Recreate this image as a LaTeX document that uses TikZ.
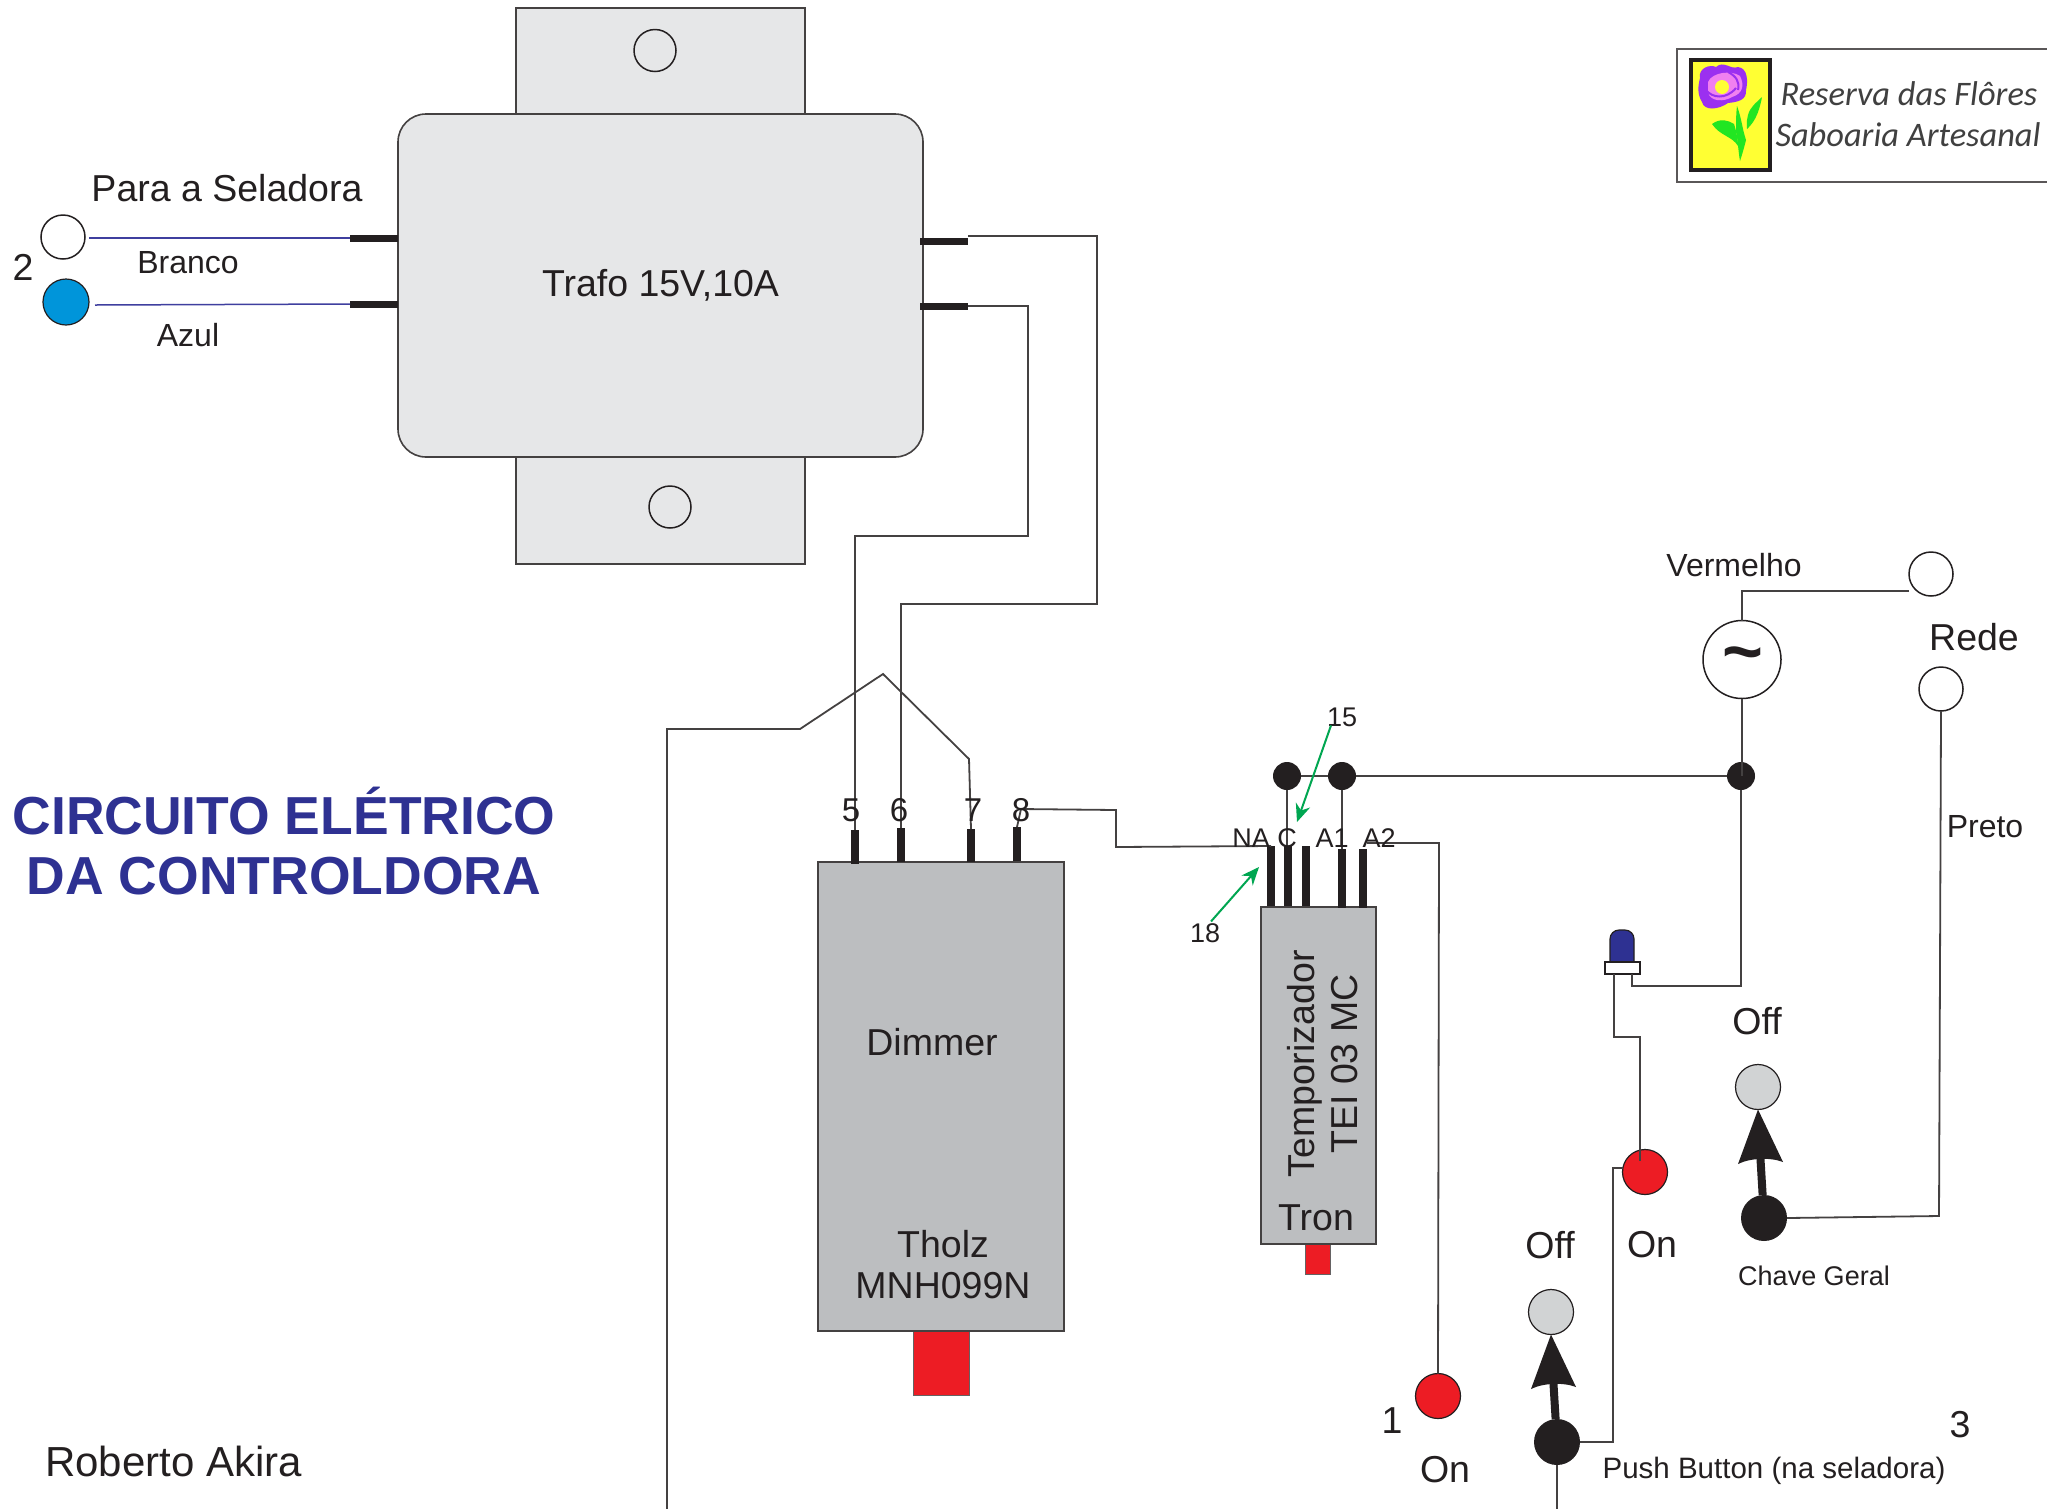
\documentclass[tikz,border=0pt]{standalone}
\usepackage{fontspec}
\setmainfont{Liberation Sans}
\newfontfamily\logofont{Carlito}
\usetikzlibrary{arrows.meta}
\definecolor{ink}{HTML}{231F20}
\definecolor{trafofill}{HTML}{E6E7E8}
\definecolor{boxfill}{HTML}{BCBEC0}
\definecolor{offfill}{HTML}{D1D3D4}
\definecolor{onred}{HTML}{ED1C24}
\definecolor{azul}{HTML}{0095DA}
\definecolor{navy}{HTML}{2E3192}
\definecolor{wireblue}{HTML}{3F3F9F}
\definecolor{arrowgreen}{HTML}{00A651}
\definecolor{logotext}{HTML}{404040}
\definecolor{flowerpurple}{HTML}{9B30F0}
\definecolor{flowerpink}{HTML}{F080F0}
\definecolor{logoyellow}{HTML}{FFFF33}
\definecolor{leafgreen}{HTML}{22E622}
\tikzset{
  every node/.style={inner sep=0pt,outer sep=0pt,text=ink},
  wire/.style={draw=ink!85!white,line width=1.8pt,line join=miter},
  bluewire/.style={draw=wireblue,line width=1.5pt},
  body/.style={draw=ink!85!white,line width=1.6pt,rectangle},
  trafotab/.style={body,fill=trafofill},
  grayblock/.style={body,fill=boxfill},
  redblock/.style={rectangle,draw=ink!70!white,line width=1pt,fill=onred},
  pinv/.style={rectangle,fill=ink,minimum width=7.5pt},
  pinh/.style={rectangle,fill=ink,minimum height=7pt},
  term/.style={circle,draw=ink,line width=1.5pt,fill=white,minimum size=#1},
  term/.default=44pt,
  bluedot/.style={circle,draw=ink,line width=1.2pt,fill=azul,minimum size=46pt},
  reddot/.style={circle,draw=ink,line width=1.2pt,fill=onred,minimum size=45pt},
  offdot/.style={circle,draw=ink,line width=1.2pt,fill=offfill,minimum size=45pt},
  blackdot/.style={circle,fill=ink,minimum size=46pt},
  joint/.style={circle,fill=ink,minimum size=28pt},
  tx/.style={font=\fontsize{#1}{#1}\selectfont},
  tx/.default=37.5pt,
  greenarrow/.style={draw=arrowgreen,line width=2pt,-{Stealth[length=18pt,width=15pt]}},
  lever/.style={draw=ink,line width=8pt},
  leverhead/.style={fill=ink,draw=none},
  logotx/.style={font=\fontsize{34.4pt}{34.4pt}\logofont\itshape,text=logotext},
}
\begin{document}
\begin{tikzpicture}[x=1pt,y=-1pt]
\useasboundingbox (0,0) rectangle (2047,1508);
\clip (0,0) rectangle (2047,1508);
\fill[white] (0,0) rectangle (2047,1508);

\begin{scope}[yshift=-1pt]
% ---- Trafo
\node[trafotab,minimum width=289pt,minimum height=106pt] (tabtop) at (660.5,60) {};
\node[trafotab,minimum width=289pt,minimum height=107pt] (tabbot) at (660.5,509.5) {};
\node[term,minimum size=42pt,fill=trafofill] (holetop) at (655,49.5) {};
\node[term,minimum size=42pt,fill=trafofill] (holebot) at (670,506) {};
\node[trafotab,rounded corners=28pt,minimum width=525pt,minimum height=343pt] (trafo) at (660.5,284.5) {};
\node[tx] (trafolabel) at (660.5,284) {Trafo 15V,10A};

% ---- Trafo pins
\node[pinh,minimum width=48pt] (pinL1) at (374,237) {};
\node[pinh,minimum width=48pt] (pinL2) at (374,303) {};
\node[pinh,minimum width=48pt] (pinR1) at (944,240) {};
\node[pinh,minimum width=48pt] (pinR2) at (944,305) {};

% ---- Left terminals
\node[term] (termW) at (63,236) {};
\node[bluedot] (termB) at (66,301) {};
\coordinate (wireW) at (89,237);
\coordinate (wireB) at (95,304);
\draw[bluewire] (wireW) -- (pinL1.west);
\draw[bluewire] (wireB) -- (pinL2.west);
\node[tx] (para) at (227,187) {Para a Seladora};
\node[tx=32pt] (branco) at (188,262) {Branco};
\node[tx=32pt] (azullabel) at (188,334) {Azul};
\node[tx] (two) at (23,266) {2};

% ---- Title and author
\node[font=\fontsize{53.5pt}{53.5pt}\selectfont\bfseries,text=navy] (title1) at (284,810) {CIRCUITO ELÉTRICO};
\node[font=\fontsize{53.5pt}{53.5pt}\selectfont\bfseries,text=navy] (title2) at (284,875) {DA CONTROLDORA};
\node[tx=42pt] (author) at (173.5,1460) {Roberto Akira};

% ---- Dimmer
\node[redblock,minimum width=56pt,minimum height=64pt] (dimred) at (941,1362) {};
\node[grayblock,minimum width=246pt,minimum height=469pt] (dimmer) at (941,1095.5) {};
\node[pinv,minimum height=34pt] (p5) at (855,846) {};
\node[pinv,minimum height=34pt] (p6) at (901,844) {};
\node[pinv,minimum height=33pt] (p7) at (971,844.5) {};
\node[pinv,minimum height=34pt] (p8) at (1017,843) {};
\node[tx] (dimlabel) at (932,1041) {Dimmer};
\node[tx] (tholz) at (943,1243) {Tholz};
\node[tx] (mnh) at (943,1285) {MNH099N};

% ---- Tron
\node[redblock,minimum width=25pt,minimum height=30pt] (tronred) at (1318,1258) {};
\node[grayblock,minimum width=115pt,minimum height=337pt] (tron) at (1318.5,1074.5) {};
\node[pinv,minimum height=60pt] (pNA) at (1271,875) {};
\node[pinv,minimum height=60pt] (pC) at (1288,875) {};
\node[pinv,minimum height=60pt] (pX) at (1306,875) {};
\node[pinv,minimum height=59pt] (pA1) at (1342,877.5) {};
\node[pinv,minimum height=59pt] (pA2) at (1363,877.5) {};
\node[tx,rotate=90] (temp) at (1305,1063) {Temporizador};
\node[tx,rotate=90] (tei) at (1345,1063) {TEI 03 MC};
\node[tx] (tronlabel) at (1316,1217) {Tron};

% ---- Junctions and source
\node[joint] (j1) at (1287,775) {};
\node[joint] (j2) at (1342,775) {};
\node[joint] (j3) at (1741,775) {};
\node[term,minimum size=78pt] (ac) at (1742,658.5) {};
\node[font=\fontsize{70pt}{70pt}\selectfont\bfseries] (tilde) at (1743,660) {\char`\~};
\node[term] (rede1) at (1931,573) {};
\node[term] (rede2) at (1941,688) {};

% ---- LED
\node[rectangle,draw=ink,line width=1.2pt,fill=navy,rounded corners=9pt,minimum width=24pt,minimum height=44pt] (ledcap) at (1622,951) {};
\node[rectangle,draw=ink,line width=1.5pt,fill=white,minimum width=35pt,minimum height=12pt] (ledbase) at (1622.5,967) {};

% ---- Switches
\node[reddot] (on1) at (1645,1171) {};
\node[reddot] (on2) at (1438,1395) {};
\node[offdot] (off1) at (1758,1086) {};
\node[offdot] (off2) at (1551,1311) {};
\node[blackdot] (sw1) at (1764,1217) {};
\node[blackdot] (sw2) at (1557,1441) {};
\coordinate (head1) at (1760,1150);
\coordinate (head2) at (1553,1375);
\draw[lever] (sw1) -- (head1);
\draw[lever] (sw2) -- (head2);
\fill[leverhead] (off1.south) -- (1783,1161) .. controls (1770,1156) and (1750,1157) .. (1738,1163) -- cycle;
\fill[leverhead] (off2.south) -- (1576,1386) .. controls (1563,1381) and (1543,1382) .. (1531,1388) -- cycle;

% ---- Wires
\coordinate (botA) at (667,1512);
\coordinate (botB) at (1557,1512);
\coordinate (wire1) at (1909,590);
\draw[wire] (pinR1.east) ++(0,-5) -- (1097,235) -- (1097,603) -- (901,603) -- (p6.north);
\draw[wire] (pinR2.east) -- (1028,305) -- (1028,535) -- (855,535) -- (p5.north);
\draw[wire] (p7.north) -- (969,758) -- (883,673) -- (800,728) -- (667,728) -- (botA);
\draw[wire] (p8.north) -- (1021,808) -- (1116,809) -- (1116,846) -- (pNA.north);
\draw[wire] (j1) -- (j2) -- (j3);
\draw[wire] (j1) -- (1287,845);
\draw[wire] (j2) -- (pA1.north);
\draw[wire] (pA2.north) ++(4,-6) -- (1439,842) -- (on2.north);
\draw[wire] (wire1) -- (1742,590) -- (ac.north);
\draw[wire] (ac.south) -- (1742,775);
\draw[wire] (j3) -- (1741,985) -- (1632,985) -- (1632,973);
\draw[wire] (1614,973) -- (1614,1036) -- (1640,1036) -- (1640,1160);
\draw[wire] (on1.west) ++(0,-4) -- (1613,1167) -- (1613,1441) -- (sw2.east);
\draw[wire] (sw2) -- (botB);
\draw[wire] (sw1.east) -- (1939,1215) -- (1941,712) -- (rede2.south);

% ---- Connector labels
\node[tx=33pt] (n5) at (851,809) {5};
\node[tx=33pt] (n6) at (899,809) {6};
\node[tx=33pt] (n7) at (973,809) {7};
\node[tx=33pt] (n8) at (1021,809) {8};
\node[tx=27pt] (lNA) at (1251,837) {NA};
\node[tx=27pt] (lC) at (1287,837) {C};
\node[tx=27pt] (lA1) at (1332,837) {A1};
\node[tx=27pt] (lA2) at (1379,837) {A2};
\node[tx=27pt] (n15) at (1342,716) {15};
\node[tx=27pt] (n18) at (1205,932) {18};
\coordinate (t15) at (1297,821);
\coordinate (t18) at (1259,866);
\draw[greenarrow] (n15.south) ++(-11,-1) -- (t15);
\draw[greenarrow] (n18.north) ++(6,-2) -- (t18);
\node[tx=32pt] (verm) at (1734,564) {Vermelho};
\node[tx] (rede) at (1974,636) {Rede};
\node[tx=32pt] (preto) at (1985,826) {Preto};
\node[tx] (off1l) at (1757,1020) {Off};
\node[tx] (off2l) at (1550,1244) {Off};
\node[tx] (on1l) at (1652,1244) {On};
\node[tx] (on2l) at (1445,1469) {On};
\node[tx] (one) at (1392,1420) {1};
\node[tx] (three) at (1960,1424) {3};
\node[tx=27pt] (chave) at (1814,1275) {Chave Geral};
\node[tx=29.5pt] (push) at (1774,1470) {Push Button (na seladora)};
\end{scope}

% ---- Logo
\draw[draw=ink!75!white,line width=2pt] (2050,49) -- (1677,49) -- (1677,182) -- (2050,182);
\node[rectangle,draw=ink,line width=3.5pt,fill=logoyellow,minimum width=79pt,minimum height=110pt] (logobox) at (1730.5,115) {};
\fill[flowerpurple] (1700,78) .. controls (1698,68) and (1710,64) .. (1716,67) .. controls (1724,60) and (1730,70) .. (1738,67) .. controls (1748,68) and (1748,82) .. (1746,90) .. controls (1747,100) and (1738,102) .. (1728,103) .. controls (1718,110) and (1704,111) .. (1702,102) .. controls (1697,94) and (1698,86) .. (1700,78) -- cycle;
\fill[flowerpink] (1708,82) .. controls (1712,72) and (1732,70) .. (1740,76) .. controls (1745,86) and (1742,94) .. (1732,97) .. controls (1724,102) and (1710,102) .. (1708,92) -- cycle;
\draw[flowerpurple,line width=2pt] (1706,90) .. controls (1712,98) and (1726,100) .. (1736,88);
\draw[flowerpurple,line width=2pt] (1728,72) .. controls (1736,76) and (1740,82) .. (1738,90);
\fill[logoyellow] (1722,87) circle[radius=7pt];
\fill[leafgreen] (1737,106) .. controls (1742,120) and (1742,128) .. (1746,140) .. controls (1744,148) and (1742,155) .. (1740,161) .. controls (1738,150) and (1738,140) .. (1736,132) .. controls (1736,122) and (1736,114) .. (1737,106) -- cycle;
\fill[leafgreen] (1762,97) .. controls (1756,103) and (1750,107) .. (1748,115) .. controls (1746,122) and (1747,128) .. (1747,129) .. controls (1752,124) and (1758,118) .. (1762,97) -- cycle;
\fill[leafgreen] (1712,124) .. controls (1720,118) and (1728,120) .. (1734,124) .. controls (1736,130) and (1738,140) .. (1738,146) .. controls (1732,136) and (1720,136) .. (1712,124) -- cycle;
\node[logotx] (logo1) at (1909,94) {Reserva das Flôres};
\node[logotx] (logo2) at (1908,135) {Saboaria Artesanal};
\end{tikzpicture}
\end{document}
